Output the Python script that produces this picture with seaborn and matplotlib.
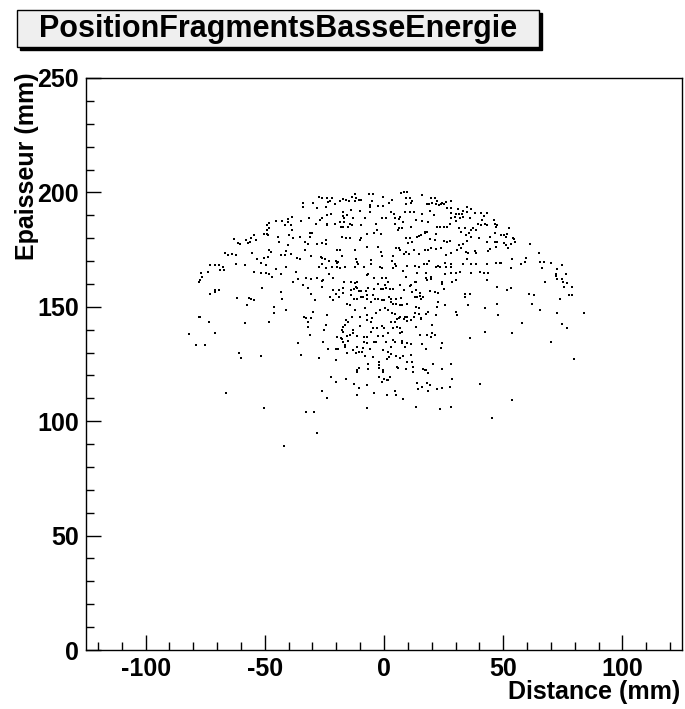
import matplotlib
matplotlib.use("Agg")
import matplotlib.pyplot as plt
from matplotlib.patches import Rectangle
from matplotlib.ticker import MultipleLocator
import numpy as np
import pandas as pd
import seaborn as sns

# Points, grouped by area of the plot
# upper left
dist_ul = [-45.5, -42.6, -48.2, -49.0, -48.2, -49.0, -50.3, -49.0, -48.5, -44.5,
           -54.5, -63.0, -55.6, -57.7, -56.0, -53.9, -61.3, -60.2, -57.1, -44.1,
           -48.3, -47.6, -66.5, -65.4, -63.7, -62.2, -55.2, -43.0, -48.7, -53.4,
           -50.3, -51.8, -61.9, -58.1, -72.8, -70.7, -69.2, -67.6, -68.6, -67.2,
           -49.3, -45.1, -73.9, -76.6, -54.6, -51.4, -49.7, -48.2, -43.0]
epai_ul = [187.5, 187.5, 186.6, 185.7, 184.5, 183.5, 181.8, 181.8, 181.3, 180.6,
           181.3, 179.7, 180.2, 179.2, 178.4, 179.2, 178.0, 177.4, 177.8, 178.4,
           174.8, 174.1, 173.6, 172.6, 173.0, 172.5, 173.6, 172.6, 171.9, 171.1,
           171.4, 169.3, 168.7, 168.2, 168.2, 168.2, 168.2, 167.6, 166.0, 166.0,
           168.2, 166.5, 165.3, 164.7, 165.3, 164.7, 164.7, 164.3, 164.3]

# upper centre left
dist_uc = [-27.2, -26.2, -24.1, -22.7, -23.4, -21.7, -20.7, -18.6, -17.1, -16.0,
           -14.6, -13.4, -12.3, -11.8, -10.6, -9.5, -12.2, -6.3, -4.6, -0.3,
           -5.2, -5.9, -6.0, -2.4, -0.3, -6.0, -10.2, -13.7, -17.1, -15.7,
           -17.2, -16.8, -23.8, -22.4, -25.8, -27.0, -28.6, -31.4, -34.0, -34.0,
           -29.8, -28.3, -24.2, -38.8, -40.3, -40.3, -41.6, -38.9, -38.8, -34.7,
           -31.1, -30.1, -23.8, -24.1, -20.6, -18.5, -16.8, -14.3, -13.3, -13.2,
           -8.1, -0.7, 1.0, -3.5, -9.5, -17.9, -17.4, -15.0, -3.1, -4.2,
           -7.0, -1.4, -17.5, -15.8, -14.4, -9.5, -10.1, -39.9, -38.1, -35.4,
           -33.3, -31.2, -31.8, -28.3, -26.2, -24.5, -24.5, -40.3, -41.0, -41.6,
           -38.9, -36.3, -35.3, -33.3, -30.8, -26.3, -25.8, -24.8, -19.9, -18.5,
           -17.5, -12.3, -7.0, -2.4, -1.1, -1.0, -23.1, -20.3, -19.2, -11.9,
           -11.5, -10.9, -5.6, -5.3, -25.8, -27.4, -24.5, -21.7, -19.9, -19.6,
           -18.5, -16.4, -12.3, -8.3, -1.7, -1.0, -41.3, -37.1, -23.1, -6.7]
epai_uc = [198.1, 197.4, 197.4, 196.4, 195.9, 197.4, 194.9, 196.4, 197.1, 196.6,
           196.4, 198.1, 199.3, 197.4, 196.6, 196.6, 196.2, 199.3, 199.3, 198.1,
           196.4, 194.7, 193.7, 193.9, 193.9, 191.5, 191.8, 192.3, 191.5, 190.1,
           189.6, 188.6, 190.1, 190.5, 188.6, 187.9, 186.4, 188.9, 195.5, 193.7,
           195.5, 193.3, 193.7, 189.4, 188.3, 187.2, 185.7, 185.7, 183.5, 187.5,
           182.4, 182.4, 186.4, 185.7, 186.4, 187.2, 187.2, 186.4, 185.7, 188.6,
           188.9, 188.6, 188.6, 186.4, 185.7, 184.7, 184.7, 185.0, 183.5, 182.1,
           181.8, 181.8, 180.6, 180.2, 180.2, 179.9, 179.2, 181.3, 179.9, 180.3,
           178.4, 180.6, 177.4, 177.4, 177.7, 179.2, 177.4, 177.0, 174.4, 172.6,
           173.0, 171.4, 170.9, 174.8, 172.0, 171.9, 171.4, 170.9, 174.8, 174.8,
           172.3, 174.8, 176.2, 176.2, 173.8, 172.0, 170.1, 170.0, 169.4, 170.9,
           169.7, 168.7, 170.4, 168.5, 168.7, 167.2, 166.8, 167.5, 167.2, 169.0,
           167.1, 167.2, 167.5, 167.5, 167.5, 166.8, 167.5, 165.3, 164.3, 164.2]

# upper centre right
dist_ur = [7.3, 8.3, 9.7, 3.4, 2.1, 9.4, 10.8, 11.8, 11.5, 9.4,
           15.8, 18.2, 18.9, 19.9, 21.3, 22.3, 20.3, 22.0, 23.0, 23.7,
           24.1, 24.5, 25.2, 26.2, 27.9, 26.3, 28.3, 31.1, 33.2, 34.9,
           36.4, 38.1, 40.6, 28.3, 30.0, 31.4, 32.9, 35.0, 19.5, 16.1,
           13.3, 12.5, 11.1, 9.0, 3.1, 4.2, 4.5, 6.3, 6.9, 4.8,
           8.0, 16.0, 18.5, 21.0, 28.0, 29.7, 30.4, 31.9, 33.2, 36.0,
           42.0, 41.3, 43.3, 42.3, 39.5, 40.6, 37.4, 36.4, 33.9, 31.4,
           32.1, 34.2, 35.6, 38.4, 43.1, 44.4, 43.3, 39.9, 36.4, 35.0,
           33.2, 31.4, 27.6, 26.6, 25.2, 23.4, 22.4, 11.2, 7.6, 6.3,
           5.9, 17.1, 18.1, 17.4, 15.7, 14.6, 13.9, 9.1, 10.8, 11.8,
           10.1, 19.5, 21.3, 22.0, 25.1, 26.5, 27.6, 6.3, 5.2, 3.8,
           6.9, 8.3, 9.4, 10.4, 12.6, 14.6, 17.4, 18.5, 19.9, 22.0,
           23.8, 25.8, 28.3, 30.8, 32.1, 34.6, 35.3, 38.1, 38.8, 43.7,
           44.4, 3.4, 4.5, 5.2, 3.8, 8.0, 9.7, 12.9, 14.7, 16.7,
           18.1, 18.8, 22.0, 22.7, 23.4, 25.5, 25.8, 28.3, 27.9, 33.2,
           34.9, 36.7, 38.5, 43.4, 13.9, 17.8, 25.5, 28.3, 30.4, 31.8,
           36.4, 40.2, 42.0, 43.7]
epai_ur = [199.6, 200.0, 200.0, 196.6, 195.2, 197.4, 197.4, 196.4, 195.2, 194.9,
           198.8, 194.9, 194.9, 197.4, 197.4, 196.4, 195.2, 194.9, 194.5, 194.8,
           194.9, 195.5, 194.9, 195.9, 196.4, 193.4, 193.0, 192.7, 192.0, 193.7,
           192.6, 190.8, 190.8, 190.8, 190.4, 190.4, 190.5, 191.3, 192.0, 190.4,
           187.9, 191.5, 191.5, 191.3, 191.3, 190.5, 188.6, 188.2, 189.1, 186.2,
           187.2, 187.5, 187.2, 190.1, 188.6, 189.1, 187.6, 188.6, 189.1, 188.6,
           189.6, 187.9, 190.8, 186.2, 186.0, 185.7, 184.3, 183.5, 184.3, 184.3,
           182.8, 181.3, 182.4, 183.5, 185.7, 180.6, 178.4, 179.9, 180.3, 178.7,
           177.3, 177.0, 186.4, 185.0, 185.0, 185.0, 184.7, 185.0, 184.6, 184.3,
           183.5, 182.8, 182.5, 182.1, 181.3, 181.1, 180.6, 180.2, 180.2, 178.4,
           177.7, 179.6, 179.2, 181.6, 178.7, 178.4, 178.7, 175.5, 175.5, 172.3,
           174.8, 172.9, 173.8, 172.9, 174.8, 173.0, 174.8, 174.8, 175.5, 175.2,
           175.5, 172.6, 173.3, 174.8, 175.5, 174.1, 173.3, 174.4, 173.6, 174.5,
           175.1, 170.0, 168.7, 167.8, 166.8, 165.8, 167.8, 167.8, 167.5, 168.5,
           168.7, 170.0, 167.5, 167.9, 167.5, 169.0, 167.5, 168.7, 167.5, 168.7,
           170.9, 168.5, 168.7, 168.7, 164.6, 164.6, 164.3, 164.6, 164.9, 165.3,
           164.6, 165.3, 164.6, 164.6]

# upper right
dist_ue = [46.1, 46.5, 47.5, 47.1, 52.4, 46.5, 48.9, 50.3, 51.7, 51.3,
           54.1, 54.5, 46.5, 47.5, 50.3, 51.3, 52.1, 53.4, 54.9, 61.2,
           47.1, 65.0, 53.8, 59.7, 47.1, 48.5, 49.2, 57.6, 59.1, 65.4,
           67.1, 70.2, 74.8, 53.4, 66.4, 72.7, 72.0, 76.5]
epai_ue = [187.9, 186.2, 185.7, 185.0, 184.6, 182.4, 181.3, 181.3, 181.8, 180.6,
           180.2, 179.6, 178.4, 178.4, 177.7, 177.0, 175.8, 177.3, 178.4, 177.4,
           176.2, 173.6, 170.9, 171.4, 169.3, 169.3, 169.3, 168.7, 169.7, 169.7,
           169.7, 169.3, 168.2, 167.1, 167.1, 166.5, 164.2, 164.2]

# middle left
dist_ml = [-76.2, -77.0, -77.7, -70.7, -70.7, -69.3, -72.8, -46.8, -51.0, -43.4,
           -42.6, -61.5, -56.7, -55.6, -54.5, -57.3, -46.1, -46.1, -77.7, -77.0,
           -73.5, -58.1, -48.3, -81.8, -70.7, -78.7, -74.9, -60.9, -59.8, -51.4]
epai_ml = [163.2, 161.7, 161.0, 157.3, 156.6, 157.3, 155.6, 163.2, 158.4, 156.6,
           153.4, 154.0, 154.0, 153.4, 153.0, 150.8, 150.1, 147.4, 145.7, 145.7,
           143.5, 143.1, 143.5, 138.1, 138.7, 133.3, 133.3, 129.9, 127.8, 128.5]

# middle centre left
dist_mc = [-36.1, -32.9, -30.8, -28.3, -26.2, -25.5, -21.4, -16.8, -14.0, -12.2,
           -11.2, -7.3, -4.2, -1.0, 0.7, -38.2, -34.0, -31.9, -26.2, -21.3,
           -18.9, -17.1, -14.0, -12.6, -11.9, -11.2, -10.5, -9.5, -7.7, -6.7,
           -4.2, -2.4, -1.4, -0.4, 0.3, 1.0, -30.5, -22.8, -20.3, -18.9,
           -17.1, -14.0, -12.6, -11.5, -9.5, -8.8, -7.0, -4.6, -7.0, -3.9,
           -2.4, -1.0, 0.0, -29.1, -21.3, -15.7, -14.4, -5.6, -41.3, -12.3,
           -8.1, -1.7, 0.4, -29.7, -33.5, -32.9, -30.5, -31.9, -31.9, -24.1,
           -13.3, -10.1, -7.0, -4.9, -3.2, -7.0, -5.3, -15.8, -15.0, -16.4,
           -17.2, -17.5, -17.1, -13.0, -10.2, -4.5, -2.8, -1.0, 0.0, -24.5,
           -25.1, -31.2, -19.6, -18.2, -17.8, -15.4, -14.3, -12.9, -11.5, -8.4,
           -7.0, -5.3, -2.4, -0.4, -36.1, -25.5, -17.2, -16.5, -15.1, -11.5,
           -8.4, -7.0, -4.2, -3.5, 0.7, -23.4, -20.3, -19.3, -16.4, -13.0,
           -10.5, -8.8, -5.9, -0.3, -34.7, -27.3, -20.3, -15.7, -11.6, -9.1,
           -8.0, -4.5, -6.7, -2.1, 1.4]
epai_mc = [162.2, 162.7, 162.2, 162.7, 161.3, 161.7, 162.7, 160.7, 160.7, 160.3,
           160.7, 163.9, 162.7, 162.4, 162.7, 160.7, 159.5, 158.1, 158.8, 157.3,
           157.3, 158.1, 157.3, 157.8, 158.8, 158.4, 156.9, 156.9, 156.9, 158.1,
           157.8, 159.8, 157.8, 157.8, 159.5, 158.1, 155.6, 154.4, 155.6, 154.4,
           155.9, 155.2, 153.4, 153.4, 154.4, 154.4, 155.2, 155.2, 153.3, 153.4,
           153.4, 153.0, 153.0, 153.0, 153.0, 151.2, 150.8, 152.0, 148.6, 148.6,
           149.6, 148.6, 149.6, 147.9, 145.7, 145.0, 145.0, 143.5, 141.3, 146.4,
           145.7, 145.7, 146.4, 145.3, 147.4, 144.2, 143.5, 144.2, 143.5, 142.0,
           141.0, 139.9, 139.1, 139.9, 141.6, 140.9, 140.6, 141.6, 140.9, 142.0,
           139.9, 137.7, 137.0, 136.5, 135.8, 137.2, 137.7, 138.7, 137.2, 137.0,
           137.0, 138.8, 137.4, 137.4, 134.3, 134.8, 134.5, 133.3, 135.1, 132.6,
           134.8, 134.3, 134.8, 134.8, 134.8, 131.6, 131.6, 131.6, 132.3, 131.1,
           130.4, 132.1, 131.6, 131.1, 128.9, 127.8, 126.7, 129.7, 129.7, 130.1,
           128.6, 128.2, 125.0, 125.7, 127.2]

# middle centre right
dist_mr = [1.7, 9.1, 12.9, 13.6, 10.8, 11.2, 17.5, 18.2, 19.6, 19.9,
           24.4, 24.4, 28.6, 30.1, 43.3, 2.4, 3.8, 6.9, 8.4, 11.8,
           13.6, 15.0, 15.0, 12.9, 13.9, 16.4, 15.7, 19.2, 21.3, 22.7,
           25.1, 33.9, 33.9, 36.0, 2.1, 2.8, 5.2, 7.0, 3.1, 3.8,
           5.2, 6.9, 7.6, 9.7, 22.7, 25.5, 22.3, 35.3, 13.3, 14.6,
           1.7, 3.5, 4.8, 18.5, 17.5, 12.9, 14.6, 21.7, 30.1, 30.7,
           42.3, 6.9, 8.7, 9.7, 12.5, 5.5, 6.3, 8.3, 9.7, 11.2,
           15.4, 15.4, 2.8, 4.8, 3.8, 5.5, 6.9, 13.6, 20.2, 1.7,
           6.9, 7.6, 15.0, 18.1, 19.6, 21.3, 20.2, 36.0, 42.3, 3.8,
           4.5, 7.6, 7.6, 9.7, 11.2, 16.0, 24.4, 23.7, 17.5, 3.1,
           1.7, 8.7, 3.1, 2.1, 4.9, 6.6, 8.0, 11.2, 9.7, 11.8,
           20.6, 28.0]
epai_mr = [161.0, 163.2, 161.0, 161.0, 159.1, 159.5, 162.7, 161.7, 163.2, 162.2,
           160.7, 160.0, 160.7, 161.7, 161.7, 157.8, 157.8, 159.5, 157.3, 156.3,
           157.3, 155.9, 154.9, 154.4, 154.4, 154.4, 153.4, 156.9, 156.6, 155.9,
           157.8, 155.6, 154.4, 155.6, 154.4, 153.4, 153.4, 153.7, 152.2, 151.2,
           151.2, 150.8, 150.8, 151.2, 152.2, 150.8, 150.1, 150.8, 150.1, 149.6,
           148.6, 147.4, 146.9, 147.9, 146.9, 147.1, 146.9, 146.4, 147.9, 146.4,
           149.6, 145.7, 145.7, 145.7, 145.7, 144.7, 145.0, 144.7, 143.9, 144.2,
           145.3, 144.7, 143.2, 143.2, 140.9, 141.3, 140.6, 141.3, 142.0, 138.4,
           138.4, 138.8, 137.7, 137.7, 137.0, 137.7, 138.7, 136.2, 138.8, 135.5,
           134.8, 135.2, 134.0, 134.3, 133.7, 133.7, 134.3, 132.1, 131.6, 132.6,
           130.4, 132.6, 129.2, 128.2, 128.5, 127.8, 128.5, 128.9, 126.0, 126.0,
           125.0, 125.0]

# middle right
dist_me = [72.0, 67.5, 72.7, 74.8, 75.1, 76.9, 47.5, 53.4, 51.7, 75.5,
           79.0, 60.8, 62.9, 77.6, 79.0, 73.8, 47.5, 62.2, 65.4, 72.7,
           83.9, 47.9, 58.0, 74.8, 76.9, 53.8, 70.2, 79.7]
epai_me = [163.5, 161.0, 162.2, 162.2, 161.0, 160.5, 158.8, 158.4, 157.3, 158.8,
           158.8, 155.6, 155.2, 155.2, 155.2, 153.4, 151.2, 151.2, 148.6, 147.4,
           147.4, 146.4, 143.1, 142.5, 140.9, 138.7, 134.8, 127.2]

# lower left
dist_ll = [-66.1, -50.3, -32.9, -29.3, -27.9, -41.9, -26.2, -24.1, -22.4, -20.3,
           -16.1, -12.5, -10.4, -11.5, -11.5, -10.4, -6.6, -2.0, -2.0, -0.6,
           -0.3, -2.0, 0.1, -1.0, 1.4, -7.3, -11.5, -4.1, 1.1, -7.3]
epai_ll = [112.5, 105.7, 104.2, 104.2, 95.0, 89.2, 113.2, 110.3, 119.5, 117.3,
           118.5, 116.3, 114.7, 122.4, 121.7, 123.4, 122.9, 124.6, 123.4, 122.4,
           121.4, 119.1, 118.5, 117.3, 117.8, 115.9, 111.5, 112.5, 111.5, 105.7]

# lower right
dist_lr = [5.5, 5.9, 9.1, 12.2, 12.2, 16.4, 17.1, 17.5, 18.5, 24.4,
           2.4, 1.7, 13.9, 18.1, 19.2, 15.8, 14.4, 18.6, 22.3, 24.4,
           27.6, 28.6, 40.2, 4.5, 4.9, 8.0, 13.3, 23.4, 28.0, 45.4,
           53.8]
epai_lr = [123.9, 123.4, 122.9, 123.9, 121.7, 122.9, 122.4, 122.4, 121.2, 122.9,
           119.1, 118.0, 116.9, 116.9, 115.9, 115.1, 114.1, 113.0, 114.1, 114.7,
           115.1, 118.5, 116.3, 113.0, 111.5, 109.7, 106.4, 105.4, 106.0, 101.6,
           109.3]

title = "PositionFragmentsBasseEnergie"
xlabel = "Distance (mm)"
ylabel = "Epaisseur (mm)"

df = pd.DataFrame({
    "distance": np.concatenate([dist_ul, dist_uc, dist_ur, dist_ue, dist_ml,
                                dist_mc, dist_mr, dist_me, dist_ll, dist_lr]),
    "epaisseur": np.concatenate([epai_ul, epai_uc, epai_ur, epai_ue, epai_ml,
                                 epai_mc, epai_mr, epai_me, epai_ll, epai_lr]),
})

sns.set_style("white")
plt.rcParams["font.family"] = ["Liberation Sans", "DejaVu Sans"]
plt.rcParams["font.weight"] = "bold"
plt.rcParams["text.color"] = "black"
plt.rcParams["xtick.color"] = "black"
plt.rcParams["ytick.color"] = "black"
plt.rcParams["axes.unicode_minus"] = False

W, H = 685, 709
fig = plt.figure(figsize=(W / 100, H / 100), dpi=100)
fig.patch.set_facecolor("white")
ax = fig.add_axes([86 / W, 1 - 650 / H, (682 - 86) / W, (650 - 78) / H])

sns.scatterplot(data=df, x="distance", y="epaisseur", ax=ax, marker="s",
                s=2.4, color="black", linewidth=0, legend=False)

ax.set_xlim(-125, 125)
ax.set_ylim(0, 250)
ax.xaxis.set_major_locator(MultipleLocator(50))
ax.xaxis.set_minor_locator(MultipleLocator(10))
ax.yaxis.set_major_locator(MultipleLocator(50))
ax.yaxis.set_minor_locator(MultipleLocator(10))
ax.tick_params(which="both", direction="in", top=False, right=False,
               bottom=True, left=True, color="black", labelcolor="black",
               width=1)
ax.tick_params(which="major", length=11, labelsize=18, pad=5)
ax.tick_params(which="minor", length=5.5)
for lab in ax.get_xticklabels() + ax.get_yticklabels():
    lab.set_fontweight("bold")
for sp in ax.spines.values():
    sp.set_color("black")
    sp.set_linewidth(1)
ax.set_xlabel("")
ax.set_ylabel("")

fig.text(680 / W, 1 - 692 / H, xlabel, ha="right", va="center",
         fontsize=18, fontweight="bold", color="black")
fig.text(27 / W, 1 - 72 / H, ylabel, ha="center", va="top", rotation=90,
         fontsize=18, fontweight="bold", color="black")

# title box with shadow
bx0, by0, bx1, by1 = 17, 10, 539, 47
fig.patches.append(Rectangle(((bx0 + 3) / W, 1 - (by1 + 3) / H),
                             (bx1 - bx0) / W, (by1 - by0) / H,
                             transform=fig.transFigure, facecolor="black",
                             edgecolor="black", zorder=1))
fig.patches.append(Rectangle((bx0 / W, 1 - by1 / H), (bx1 - bx0) / W,
                             (by1 - by0) / H, transform=fig.transFigure,
                             facecolor="#efefef", edgecolor="black",
                             linewidth=1, zorder=2))
fig.text((bx0 + bx1) / 2 / W, 1 - (by0 + by1 + 1) / 2 / H, title,
         ha="center", va="center", fontsize=22, fontweight="bold",
         color="black", zorder=3)

fig.savefig("out.png", dpi=100)
